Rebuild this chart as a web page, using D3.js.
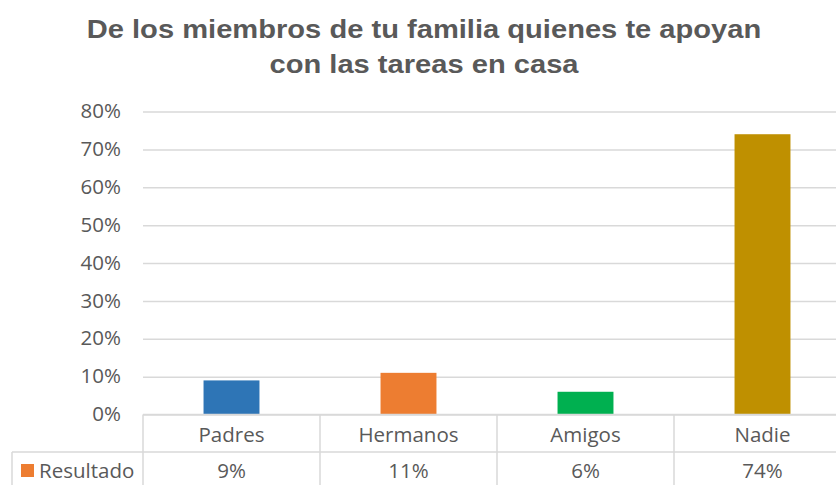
<!DOCTYPE html>
<html>
<head>
<meta charset="utf-8">
<script src="https://cdn.jsdelivr.net/npm/d3@7"></script>
<style>
  body { margin: 0; background: #fff; }
  svg { display: block; }
</style>
</head>
<body>
<svg id="chart"></svg>
<script>
const categories = ['Padres', 'Hermanos', 'Amigos', 'Nadie'];
const values = [0.09, 0.11, 0.06, 0.74];
const colors = ['#2E75B6', '#ED7D31', '#00B050', '#BF9000'];
const yTicks = [0, 0.1, 0.2, 0.3, 0.4, 0.5, 0.6, 0.7, 0.8];
const seriesName = 'Resultado';
const seriesColor = '#ED7D31';
const titleLines = [
  'De los miembros de tu familia quienes te apoyan',
  'con las tareas en casa',
];

const width = 836;
const height = 485;
const margin = { top: 111.5, left: 143, right: -15, bottom: 70.5 };
const plotRight = width - margin.right;
const plotBottom = height - margin.bottom;
const rowH = 37.5;
const textColor = '#595959';
const lineColor = '#d9d9d9';
const font = "'Open Sans', sans-serif";
const fontSize = '20.5px';

const svg = d3.select('#chart')
  .attr('width', width)
  .attr('height', height)
  .style('font-family', font);

const xScale = d3.scaleBand()
  .domain(categories)
  .range([margin.left, plotRight]);

const yScale = d3.scaleLinear()
  .domain([0, 0.8])
  .range([plotBottom, margin.top]);

// title (Excel's title is a bit wider than Liberation Sans, stretch it)
const titleX = 424;
svg.append('g')
  .attr('transform', `translate(${titleX},0) scale(1.12,1)`)
  .selectAll('text')
  .data(titleLines)
  .enter()
  .append('text')
  .attr('x', 0)
  .attr('y', (d, i) => 38.5 + i * 35)
  .attr('text-anchor', 'middle')
  .attr('fill', textColor)
  .style('font-family', "'Liberation Sans', Arial, sans-serif")
  .style('font-weight', 'bold')
  .style('font-size', '26px')
  .text(d => d);

// gridlines
svg.append('g')
  .attr('class', 'y-grid')
  .attr('transform', `translate(${margin.left},0)`)
  .call(d3.axisLeft(yScale).tickValues(yTicks).tickSize(-(plotRight - margin.left)).tickFormat(''))
  .call(g => g.select('.domain').remove())
  .call(g => g.selectAll('line').attr('stroke', lineColor).attr('stroke-width', 1.5));

// y labels
svg.append('g')
  .attr('class', 'y-axis')
  .attr('transform', `translate(${margin.left - 22},0)`)
  .call(d3.axisLeft(yScale).tickValues(yTicks).tickSize(0).tickFormat(d3.format('.0%')))
  .call(g => g.select('.domain').remove())
  .call(g => g.selectAll('text')
    .attr('x', 0)
    .attr('dy', '0.3em')
    .attr('fill', textColor)
    .style('font-family', font)
    .style('font-size', fontSize));

// bars
const barW = xScale.bandwidth() * 0.316;
svg.append('g')
  .selectAll('rect')
  .data(categories)
  .enter()
  .append('rect')
  .attr('x', d => xScale(d) + (xScale.bandwidth() - barW) / 2)
  .attr('y', (d, i) => yScale(values[i]))
  .attr('width', barW)
  .attr('height', (d, i) => plotBottom - yScale(values[i]))
  .attr('fill', (d, i) => colors[i]);

// data table
const table = svg.append('g')
  .attr('class', 'table')
  .attr('stroke', lineColor)
  .attr('stroke-width', 1.5)
  .attr('fill', 'none');

table.append('line')
  .attr('x1', margin.left).attr('x2', plotRight)
  .attr('y1', plotBottom).attr('y2', plotBottom);
table.append('line')
  .attr('x1', 12).attr('x2', plotRight)
  .attr('y1', plotBottom + rowH).attr('y2', plotBottom + rowH);
table.append('line')
  .attr('x1', 12).attr('x2', 12)
  .attr('y1', plotBottom + rowH).attr('y2', height + 10);
table.selectAll('line.col')
  .data(categories)
  .enter()
  .append('line')
  .attr('class', 'col')
  .attr('x1', d => xScale(d)).attr('x2', d => xScale(d))
  .attr('y1', plotBottom).attr('y2', height + 10);

const cellText = (sel) => sel
  .attr('fill', textColor)
  .attr('text-anchor', 'middle')
  .style('font-size', fontSize);

svg.append('g')
  .selectAll('text')
  .data(categories)
  .enter()
  .append('text')
  .attr('x', d => xScale(d) + xScale.bandwidth() / 2)
  .attr('y', plotBottom + 27)
  .call(cellText)
  .text(d => d);

svg.append('g')
  .selectAll('text')
  .data(categories)
  .enter()
  .append('text')
  .attr('x', d => xScale(d) + xScale.bandwidth() / 2)
  .attr('y', plotBottom + rowH + 26)
  .call(cellText)
  .text((d, i) => d3.format('.0%')(values[i]));

// legend key
svg.append('rect')
  .attr('x', 21)
  .attr('y', plotBottom + rowH + 12)
  .attr('width', 13)
  .attr('height', 13)
  .attr('fill', seriesColor);
svg.append('text')
  .attr('x', 39)
  .attr('y', plotBottom + rowH + 26)
  .attr('fill', textColor)
  .style('font-size', fontSize)
  .text(seriesName);
</script>
</body>
</html>
